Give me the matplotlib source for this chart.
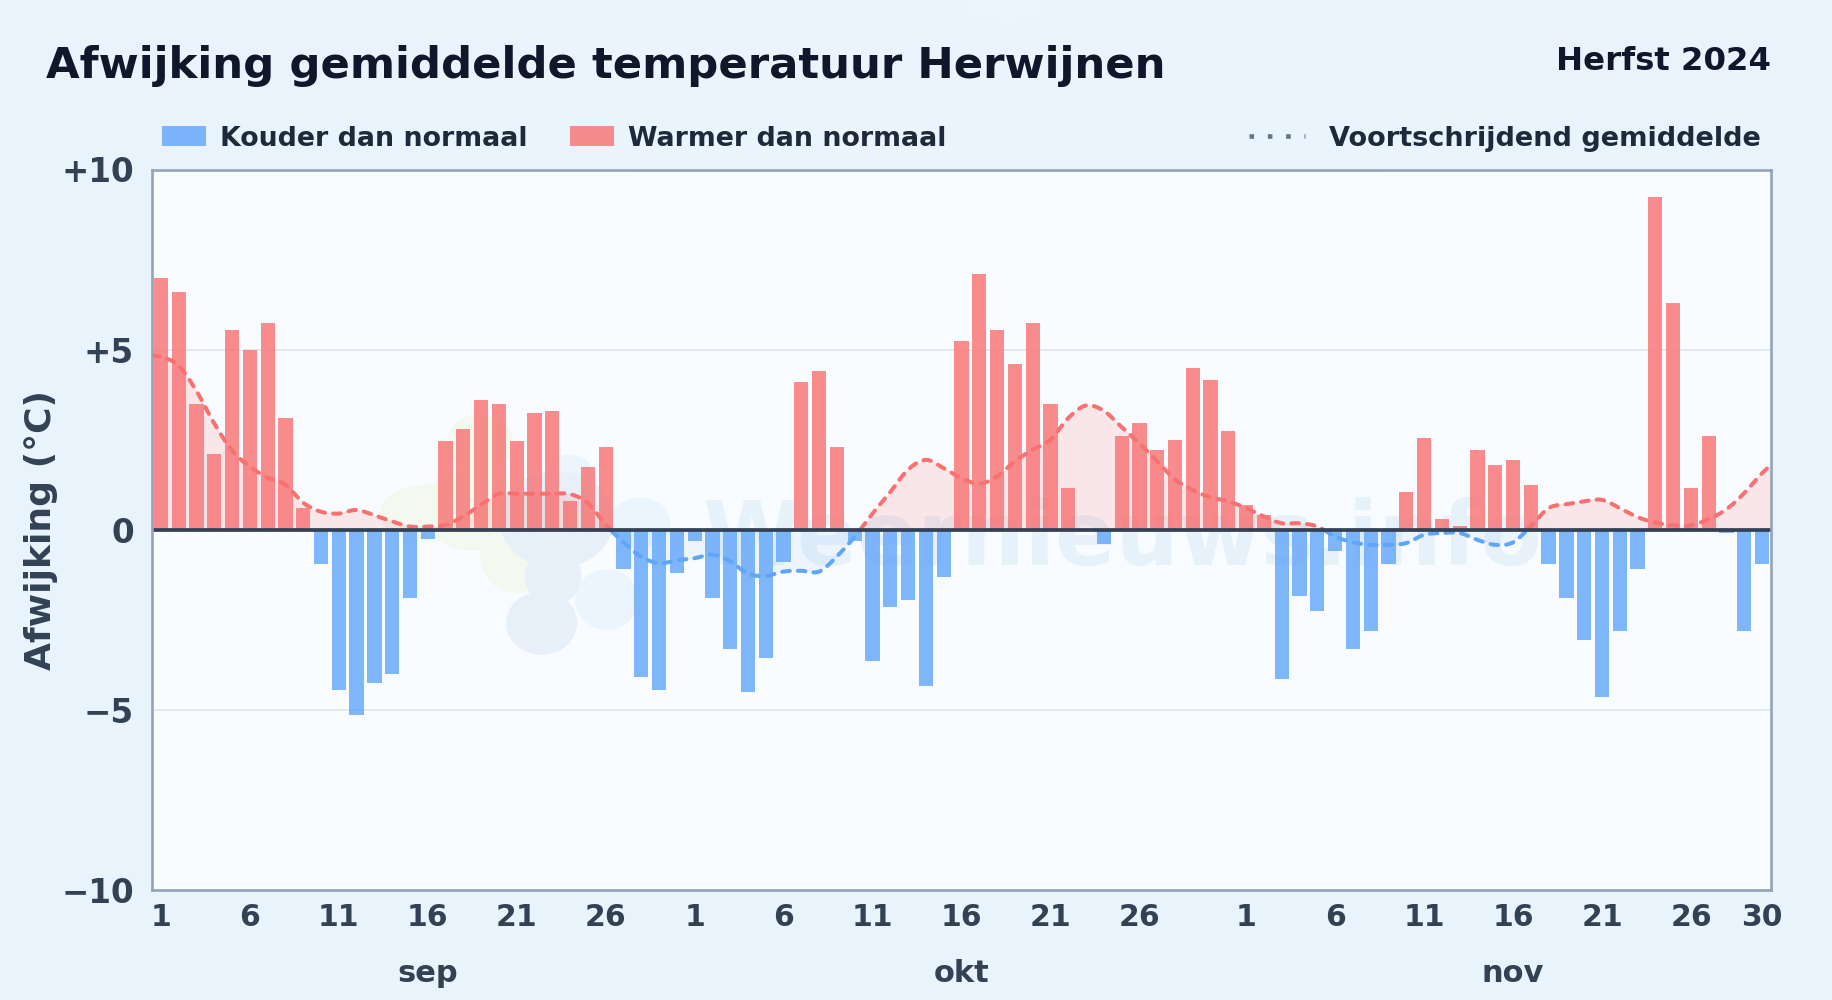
import numpy as np
import matplotlib
matplotlib.use("Agg")
import matplotlib.pyplot as plt
from matplotlib.colors import LinearSegmentedColormap
from matplotlib.patches import Ellipse, Patch
from matplotlib.lines import Line2D

# afwijking per dag (sep, okt, nov)
sep_vals = [7.0, 6.6, 3.5, 2.1, 5.55, 5.0, 5.75, 3.1, 0.6, -0.95,
            -4.45, -5.15, -4.25, -4.0, -1.9, -0.25, 2.45, 2.8, 3.6, 3.5,
            2.45, 3.25, 3.3, 0.8, 1.75, 2.3, -1.1, -4.1, -4.45, -1.2]
okt_vals = [-0.3, -1.9, -3.3, -4.5, -3.55, -0.9, 4.1, 4.4, 2.3, -0.3,
            -3.65, -2.15, -1.95, -4.35, -1.3, 5.25, 7.1, 5.55, 4.6, 5.75,
            3.5, 1.15, 0.0, -0.4, 2.6, 2.95, 2.2, 2.5, 4.5, 4.15, 2.75]
nov_vals = [0.7, 0.4, -4.15, -1.85, -2.25, -0.6, -3.3, -2.8, -0.95, 1.05,
            2.55, 0.3, 0.1, 2.2, 1.8, 1.95, 1.25, -0.95, -1.9, -3.05,
            -4.65, -2.8, -1.1, 9.25, 6.3, 1.15, 2.6, -0.1, -2.8, -0.95]

# voortschrijdend gemiddelde: begin rand, 91 dagen, eind rand
rolling = [4.85, 4.8, 4.55, 3.85, 2.95, 2.2, 1.75, 1.45, 1.25, 0.75, 0.5,
           0.45, 0.55, 0.4, 0.23, 0.09, 0.09, 0.14, 0.37, 0.7, 1.0,
           1.0, 1.0, 1.0, 0.99, 0.74, 0.14, -0.35, -0.75, -0.93, -0.85,
           -0.79, -0.69, -0.88, -1.22, -1.28, -1.16, -1.14, -1.16, -0.74, -0.19,
           0.45, 1.05, 1.67, 1.94, 1.71, 1.43, 1.28, 1.48, 1.9, 2.22,
           2.5, 3.1, 3.45, 3.3, 2.85, 2.4, 1.9, 1.4, 1.1, 0.9,
           0.79, 0.6, 0.37, 0.18, 0.18, 0.09, -0.19, -0.35, -0.42, -0.42,
           -0.37, -0.14, -0.09, -0.09, -0.28, -0.42, -0.35, 0.1, 0.6, 0.71,
           0.79, 0.83, 0.6, 0.35, 0.2, 0.12, 0.12, 0.3, 0.57, 1.02,
           1.57, 1.8]

month_names = ["sep", "okt", "nov"]
tick_days = [1, 6, 11, 16, 21, 26]
y_ticks = [-10, -5, 0, 5, 10]
y_tick_labels = ["\u221210", "\u22125", "0", "+5", "+10"]

# watermerk vlekken (x, y, breedte, hoogte, kleur)
green_blobs = [(17.94, 2.41, 3.75, 1.57), (14.94, 0.46, 5.24, 1.57),
               (17.56, 0.56, 5.6, 2.3), (20.0, -0.74, 4.1, 2.04)]
light_blobs = [(23.0, 1.39, 2.8, 1.4), (26.93, 0.19, 3.4, 1.4), (25.06, -1.94, 3.56, 1.67)]
dark_blobs = [(22.25, 0.28, 6.4, 2.7), (22.04, -1.3, 3.2, 1.57), (21.4, -2.59, 4.0, 1.76)]

W, H = 1832, 1000
BG = "#e8f3fc"
TEXT = "#334155"
plt.rcParams["font.family"] = "DejaVu Sans"
plt.rcParams["font.weight"] = "bold"

values = np.array(sep_vals + okt_vals + nov_vals)
days = np.arange(len(values))
avg_x = np.r_[-0.5, days, len(values) - 0.5]
avg_y = np.array(rolling)


def smooth(x, y, n=12):
    # catmull-rom door de daggemiddelden, alleen voor de tekening
    m = np.gradient(y, x)
    xs, ys = [], []
    for i in range(len(x) - 1):
        h = x[i + 1] - x[i]
        t = np.linspace(0, 1, n, endpoint=False)
        ys.append((2*t**3 - 3*t**2 + 1) * y[i] + (t**3 - 2*t**2 + t) * h * m[i]
                  + (-2*t**3 + 3*t**2) * y[i + 1] + (t**3 - t**2) * h * m[i + 1])
        xs.append(x[i] + t * h)
    return np.r_[np.concatenate(xs), x[-1]], np.r_[np.concatenate(ys), y[-1]]


fig = plt.figure(figsize=(W / 100, H / 100), dpi=100, facecolor=BG)

# achtergrond, bovenin het midden iets lichter
bg_ax = fig.add_axes([0, 0, 1, 1], zorder=-1)
gx, gy = np.meshgrid(np.linspace(0, 1, 200), np.linspace(0, 1, 110))
glow = np.exp(-((gx - 0.55) / 0.33) ** 2 - (gy / 0.3) ** 2)
bg_cmap = LinearSegmentedColormap.from_list("bg", [BG, "#ecf5fd"])
bg_ax.imshow(glow, cmap=bg_cmap, aspect="auto", vmin=0, vmax=1)
bg_ax.axis("off")

ax = fig.add_axes([152 / W, 1 - 890 / H, (1771 - 152) / W, 720.5 / H], facecolor="#f8fbff")

# watermerk
for blobs, c, z in [(green_blobs, "#f3f9ee", 0.5), (light_blobs, "#eaf5fd", 0.52), (dark_blobs, "#e7f0f8", 0.54)]:
    for bx, by, bw, bh in blobs:
        ax.add_patch(Ellipse((bx, by), bw, bh, color=c, lw=0, zorder=z))
ax.text(54, -0.97, "Weernieuws.info", color="#e7f1fa", fontsize=64, ha="center",
        va="baseline", zorder=0.6)

ax.grid(axis="y", color="#e2e8f0", lw=1.4, zorder=1)
ax.set_axisbelow(True)

colors = np.where(values >= 0, "#f87171", "#60a5fa")
ax.bar(days, values, width=0.8, color=colors, alpha=0.8, lw=0, zorder=2)

cx, cy = smooth(avg_x, avg_y)
ax.fill_between(cx, cy, 0, where=cy >= 0, color="#f87171", alpha=0.15, lw=0, zorder=1.5, interpolate=True)
ax.fill_between(cx, cy, 0, where=cy <= 0, color="#60a5fa", alpha=0.08, lw=0, zorder=1.5, interpolate=True)
for y_part, c in [(np.ma.masked_less(cy, 0), "#f87171"), (np.ma.masked_greater(cy, 0), "#60a5fa")]:
    ax.plot(cx, y_part, color=c, lw=2.9, ls=(0, (1.9, 2.0)), dash_capstyle="round", zorder=3)

ax.axhline(0, color=TEXT, lw=2.7, zorder=4)

ax.set_xlim(-0.5, len(values) - 0.5)
ax.set_ylim(-10, 10)
ax.set_yticks(y_ticks, y_tick_labels)

# ticks: elke vijf dagen, 30 nov als laatste
sizes = [len(sep_vals), len(okt_vals), len(nov_vals)]
starts = np.cumsum([0] + sizes[:-1])
xticks, xlabels = [], []
for s in starts:
    for d in tick_days:
        xticks.append(s + d - 1)
        xlabels.append(str(d))
xticks.append(len(values) - 1)
xlabels.append(str(sizes[-1]))
ax.set_xticks(xticks, xlabels)
ax.tick_params(axis="y", length=0, labelsize=23.5, labelcolor=TEXT, pad=13)
ax.tick_params(axis="x", length=0, labelsize=21.5, labelcolor=TEXT, pad=9)
for spine in ax.spines.values():
    spine.set_color("#94a3b8")
    spine.set_linewidth(1.9)
    spine.set_zorder(5)

ax.set_ylabel("Afwijking (\u00b0C)", fontsize=26, fontweight="bold", color=TEXT, labelpad=2)

# maandnaam onder dag 16
for name, s in zip(month_names, starts):
    ax.annotate(name, xy=(s + 15, 0), xycoords=("data", "axes fraction"),
                xytext=(0, -(974 - 890) * 0.72), textcoords="offset points",
                ha="center", va="center", fontsize=22, color=TEXT)

fig.text(46 / W, 1 - 66 / H, "Afwijking gemiddelde temperatuur Herwijnen",
         fontsize=31.2, color="#0f172a", va="center")
fig.text(1771 / W, 1 - 61 / H, "Herfst 2024", fontsize=23.3, color="#0f172a",
         va="center", ha="right")

left = fig.legend(handles=[Patch(color="#60a5fa", alpha=0.8, lw=0, label="Kouder dan normaal"),
                           Patch(color="#f87171", alpha=0.8, lw=0, label="Warmer dan normaal")],
                  loc="center left", bbox_to_anchor=(162 / W, 1 - 138.5 / H), ncol=2, frameon=False,
                  fontsize=19.3, labelcolor="#1e293b", handlelength=1.65, handleheight=0.75,
                  handletextpad=0.5, columnspacing=1.6, borderaxespad=0, borderpad=0)
right = fig.legend(handles=[Line2D([], [], color="#64748b", lw=3.3, ls=(0, (1, 3.0)),
                                   label="Voortschrijdend gemiddelde")],
                   loc="center right", bbox_to_anchor=(1761 / W, 1 - 138.5 / H), frameon=False,
                   fontsize=19.5, labelcolor="#1e293b", handlelength=2.05,
                   handletextpad=0.9, borderaxespad=0, borderpad=0)

fig.savefig("out.png", dpi=100, facecolor=BG)
